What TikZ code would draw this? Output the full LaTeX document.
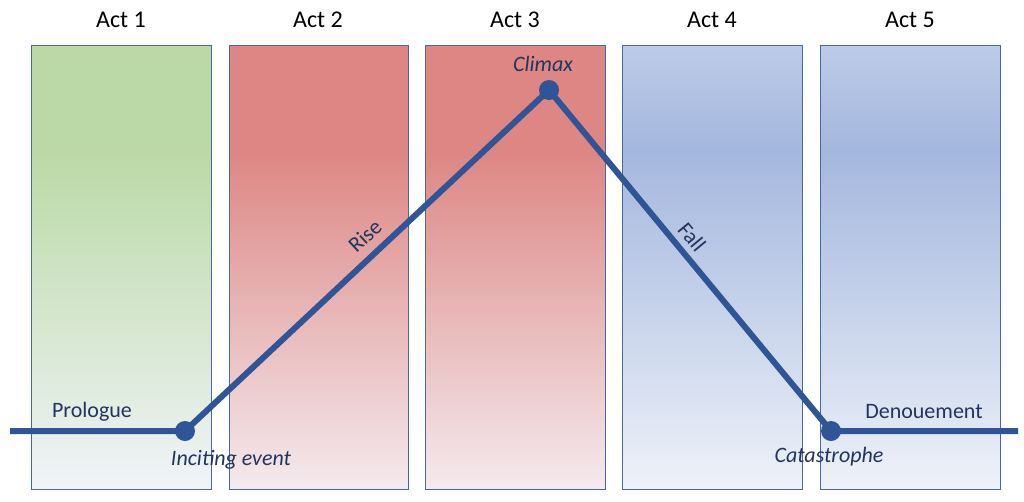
\documentclass[tikz,border=0pt]{standalone}
\usepackage{fontspec}
\setmainfont{Carlito}
\definecolor{lineblue}{HTML}{2F5597}
\definecolor{txtblue}{HTML}{22355E}
\definecolor{boxedge}{HTML}{4A68A3}
\definecolor{gtop}{HTML}{BBD9A6}
\definecolor{gbot}{HTML}{F0F4F8}
\definecolor{rtop}{HTML}{DD8683}
\definecolor{rbot}{HTML}{F4EAEE}
\definecolor{btop}{HTML}{BCCBE8}
\definecolor{bmid}{HTML}{A4B7DE}
\definecolor{bbot}{HTML}{EEF2F9}
\tikzset{
  act/.style={font=\fontsize{24}{28}\selectfont, text=black, anchor=center, inner sep=0pt},
  lab/.style={font=\fontsize{22}{26}\selectfont, text=txtblue, anchor=center, inner sep=0pt},
  ilab/.style={lab, font=\fontsize{22}{26}\selectfont\itshape},
  arcline/.style={draw=lineblue, line width=6pt},
  dot/.style={circle, fill=lineblue, minimum size=20pt, inner sep=0pt},
  boxedge/.style={draw=boxedge, line width=1pt}
}
\begin{document}
\begin{tikzpicture}[x=1pt,y=-1pt]
\useasboundingbox[fill=white] (0,0) rectangle (1024,501);
% Act 1 (green)
\fill[gtop] (31,45) rectangle (211,150);
\shade[top color=gtop, bottom color=gbot] (31,150) rectangle (211,489);
\draw[boxedge] (31,45) rectangle (211,489);
% Act 2 (red)
\fill[rtop] (229,45) rectangle (408,150);
\shade[top color=rtop, bottom color=rbot] (229,150) rectangle (408,489);
\draw[boxedge] (229,45) rectangle (408,489);
% Act 3 (red)
\fill[rtop] (425,45) rectangle (605,150);
\shade[top color=rtop, bottom color=rbot] (425,150) rectangle (605,489);
\draw[boxedge] (425,45) rectangle (605,489);
% Act 4 (blue)
\shade[top color=btop, bottom color=bmid] (622,45) rectangle (802,150);
\shade[top color=bmid, bottom color=bbot] (622,150) rectangle (802,489);
\draw[boxedge] (622,45) rectangle (802,489);
% Act 5 (blue)
\shade[top color=btop, bottom color=bmid] (820,45) rectangle (1000,150);
\shade[top color=bmid, bottom color=bbot] (820,150) rectangle (1000,489);
\draw[boxedge] (820,45) rectangle (1000,489);
% Act labels
\node[act] (a1) at (121,20) {Act 1};
\node[act] (a2) at (318,20) {Act 2};
\node[act] (a3) at (515,20) {Act 3};
\node[act] (a4) at (712,20) {Act 4};
\node[act] (a5) at (910,20) {Act 5};
% arc
\coordinate (start) at (10,431);
\coordinate (finish) at (1018,431);
\node[dot] (inc) at (185,431) {};
\node[dot] (clim) at (549,90) {};
\node[dot] (cat) at (831,431) {};
\draw[arcline] (start) -- (inc.center) -- (clim.center) -- (cat.center) -- (finish);
% labels
\node[lab] (pro) at (92,412) {Prologue};
\node[lab] (den) at (924,412) {Denouement};
\node[ilab] (inct) at (231,460) {Inciting event};
\node[ilab] (clt) at (543,64) {Climax};
\node[ilab] (catt) at (829,457) {Catastrophe};
\node[lab, rotate=43] (rise) at (365,236) {Rise};
\node[lab, rotate=-50.4] (fall) at (692,237) {Fall};
\end{tikzpicture}
\end{document}
